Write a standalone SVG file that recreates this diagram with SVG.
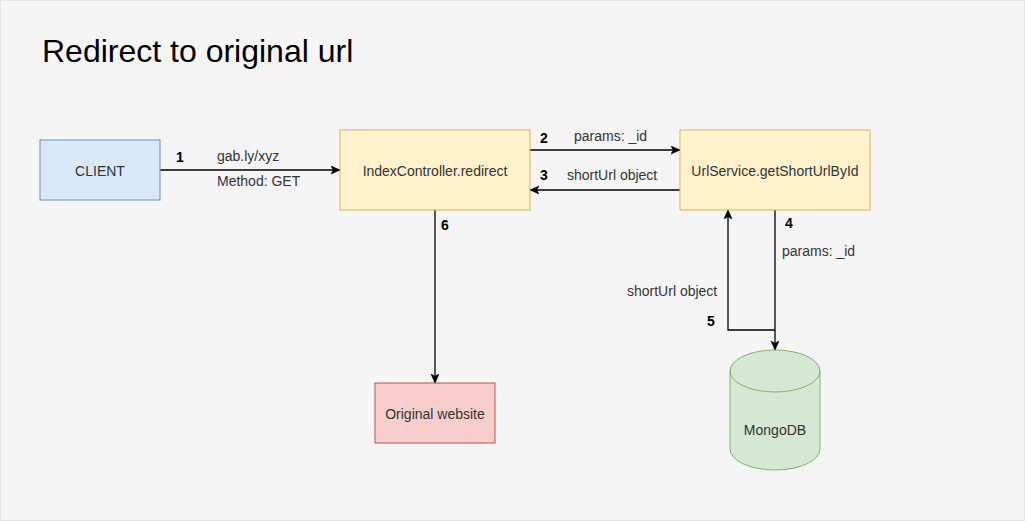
<svg xmlns="http://www.w3.org/2000/svg" width="1025" height="521" viewBox="0 0 1025 521">
  <style>
    .lbl { font-family: "Liberation Sans", Arial, sans-serif; font-size: 14px; fill: #333333; }
    .num { font-family: "Liberation Sans", Arial, sans-serif; font-size: 14px; font-weight: bold; fill: #000000; }
    .node-text { font-family: "Liberation Sans", Arial, sans-serif; font-size: 14px; fill: #333333; text-anchor: middle; }
    .edge { fill: none; stroke: #000000; stroke-width: 1.3; marker-end: url(#arrow); }
  </style>
  <defs>
    <marker id="arrow" markerUnits="userSpaceOnUse" markerWidth="10" markerHeight="10" refX="9" refY="4" orient="auto">
      <path d="M0,0 L9,4 L0,8 L2.3,4 Z" fill="#000000" stroke="#000000" stroke-width="0.6"/>
    </marker>
  </defs>
  <rect x="0.5" y="0.5" width="1024" height="520" fill="#f5f5f5" stroke="#e6e6e6"/>
  <text x="42" y="62" font-family="'Liberation Sans', Arial, sans-serif" font-size="32" fill="#000000">Redirect to original url</text>

  <g id="connectors">
    <path class="edge" d="M160,170 H340"/>
    <path class="edge" d="M530,150 H680"/>
    <path class="edge" d="M680,190 H530"/>
    <path class="edge" d="M775,210 V350"/>
    <path class="edge" d="M775,330 H728 V210"/>
    <path class="edge" d="M435,210 V383"/>
    <text class="num" x="176" y="162">1</text>
    <text class="lbl" x="217" y="161">gab.ly/xyz</text>
    <text class="lbl" x="217" y="186">Method: GET</text>
    <text class="num" x="540" y="143">2</text>
    <text class="lbl" x="574" y="141">params: _id</text>
    <text class="num" x="540" y="180">3</text>
    <text class="lbl" x="567" y="180">shortUrl object</text>
    <text class="num" x="785" y="228">4</text>
    <text class="lbl" x="782" y="256">params: _id</text>
    <text class="lbl" x="627" y="296">shortUrl object</text>
    <text class="num" x="707" y="326">5</text>
    <text class="num" x="441" y="230">6</text>
  </g>

  <g id="client">
    <rect x="40" y="140" width="120" height="60" fill="#dae8fc" stroke="#6c8ebf" stroke-width="1"/>
    <text class="node-text" x="100" y="176">CLIENT</text>
  </g>
  <g id="index-controller">
    <rect x="340" y="130" width="190" height="80" fill="#fff2cc" stroke="#d6b656" stroke-width="1"/>
    <text class="node-text" x="435" y="176">IndexController.redirect</text>
  </g>
  <g id="url-service">
    <rect x="680" y="130" width="190" height="80" fill="#fff2cc" stroke="#d6b656" stroke-width="1"/>
    <text class="node-text" x="775" y="176">UrlService.getShortUrlById</text>
  </g>
  <g id="original-website">
    <rect x="375" y="383" width="120" height="60" fill="#f8cecc" stroke="#b85450" stroke-width="1"/>
    <text class="node-text" x="435" y="419">Original website</text>
  </g>
  <g id="mongodb">
    <path d="M730,371 A45,21 0 0 1 820,371 V449 A45,21 0 0 1 730,449 Z" fill="#d5e8d4" stroke="#82b366" stroke-width="1"/>
    <path d="M730,371 A45,21 0 0 0 820,371" fill="none" stroke="#82b366" stroke-width="1"/>
    <text class="node-text" x="775" y="435">MongoDB</text>
  </g>
</svg>
